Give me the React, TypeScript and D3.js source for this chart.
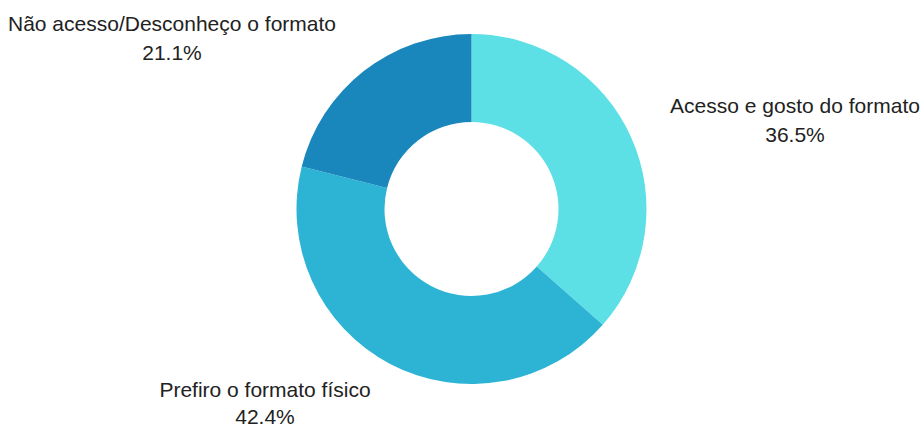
import React from "react";
import * as d3 from "d3";

const categories = ["Acesso e gosto do formato", "Prefiro o formato físico", "Não acesso/Desconheço o formato"];
const values = [36.5, 42.4, 21.1];
const colors = ["#5ddfe6", "#2db4d5", "#1987bb"];
const labelPos = [
  { x: 795, y: 113, dy: 29 },
  { x: 265, y: 397, dy: 27 },
  { x: 172, y: 31, dy: 29 },
];

export default function App() {
  const W = 922, H = 427;
  const cx = 471.5, cy = 209;
  const outer = 175, inner = 87;
  const pie = d3.pie<number>().sort(null).value((d) => d);
  const arcs = pie(values);
  const arc = d3.arc<d3.PieArcDatum<number>>().innerRadius(inner).outerRadius(outer);
  return (
    <svg width={W} height={H} style={{ position: "absolute", left: 0, top: 0 }} fontFamily="'Liberation Sans', Arial, sans-serif">
      <rect width={W} height={H} fill="#fff" />
      <g transform={`translate(${cx},${cy})`}>
        {arcs.map((a, i) => (
          <path key={i} d={arc(a) || ""} fill={colors[i]} />
        ))}
      </g>
      {categories.map((c, i) => (
        <g key={c} fill="#222" fontSize={21} textAnchor="middle">
          <text x={labelPos[i].x} y={labelPos[i].y}>{c}</text>
          <text x={labelPos[i].x} y={labelPos[i].y + labelPos[i].dy}>{values[i].toFixed(1)}%</text>
        </g>
      ))}
    </svg>
  );
}
